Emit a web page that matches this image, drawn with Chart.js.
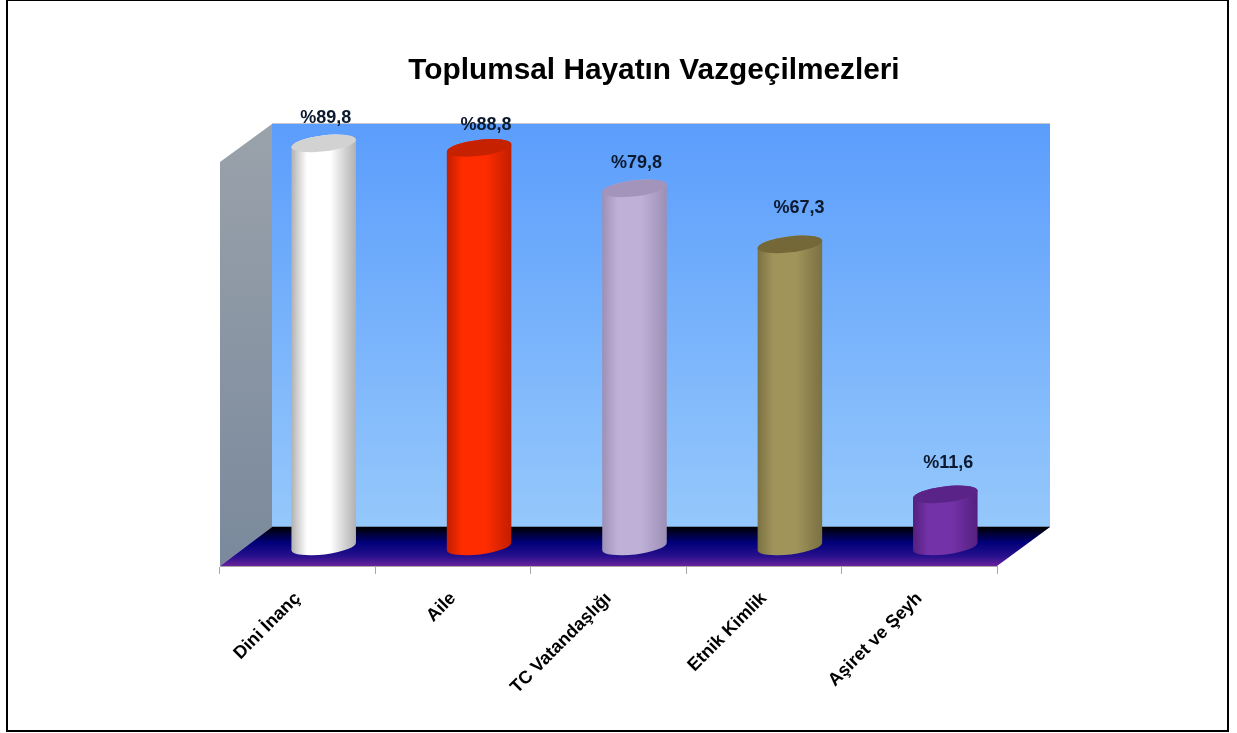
<!DOCTYPE html>
<html><head><meta charset="utf-8">
<script src="https://cdn.jsdelivr.net/npm/chart.js@4"></script>
<style>html,body{margin:0;padding:0;background:#fff;overflow:hidden}canvas{display:block}</style>
</head><body><canvas id="c" width="1237" height="733"></canvas>
<script>
const chartTitle = 'Toplumsal Hayatın Vazgeçilmezleri';
const categories = ['Dini İnanç','Aile','TC Vatandaşlığı','Etnik Kimlik','Aşiret ve Şeyh'];
const values = [89.8,88.8,79.8,67.3,11.6];
const sideColors = ['#b0b0b0','#c01e00','#9c8fb4','#7a7042','#54207f'];
const midColors = ['#ffffff','#ff2c00','#bfb0d8','#a0945a','#7432a8'];
const capColors = ['#d2d2d2','#c62100','#a294ba','#746838','#5a2388'];
const labelNudgeX = [2,7,2,9,3];
const labelNudgeY = [-25,-23,-25,-36,-31];

const DX = 26, DY = -19.5, RX = 32.5, RY = 8, TILT = -0.12;

function barFill(ctx){
  const chart = ctx.chart, i = ctx.dataIndex;
  if (i === undefined || !chart.chartArea) return midColors[0];
  const x = chart.scales.x.getPixelForValue(i);
  const g = chart.ctx.createLinearGradient(x-RX,0,x+RX,0);
  g.addColorStop(0, sideColors[i]);
  g.addColorStop(0.24, midColors[i]);
  g.addColorStop(0.6, midColors[i]);
  g.addColorStop(1, sideColors[i]);
  return g;
}
function drawCylinder(c){
  const {x,y,base} = this.getProps(['x','y','base'],true);
  const i = this.$context ? this.$context.dataIndex : 0;
  const ex = RX*Math.cos(TILT), ey = RX*Math.sin(TILT);
  c.save();
  c.beginPath();
  c.ellipse(x,base,RX,RY,TILT,0,Math.PI);
  c.lineTo(x-ex,y-ey);
  c.ellipse(x,y,RX,RY,TILT,Math.PI,0);
  c.closePath();
  c.fillStyle = this.options.backgroundColor;
  c.fill();
  c.beginPath();
  c.ellipse(x,y,RX,RY,TILT,0,Math.PI*2);
  c.fillStyle = capColors[i];
  c.fill();
  c.restore();
}
const scene = {
  id:'scene',
  beforeDraw(chart){
    const c = chart.ctx, a = chart.chartArea;
    c.save();
    c.fillStyle='#fff'; c.fillRect(0,0,chart.width,chart.height);
    c.fillStyle='#000';
    c.fillRect(6,0,2,732); c.fillRect(1227,0,2,732);
    c.fillRect(6,0,1223,1); c.fillRect(6,730,1223,2);
    const bl=a.left+52, br=a.right+53, bt=a.top-38, bb=a.bottom-39;
    let g=c.createLinearGradient(0,bt,0,bb);
    g.addColorStop(0,'#5b9dfc'); g.addColorStop(1,'#95c8fb');
    c.fillStyle=g; c.fillRect(bl,bt,br-bl,bb-bt);
    c.fillStyle='#c4c8cc'; c.fillRect(bl,bt-1,br-bl,1);
    g=c.createLinearGradient(0,a.top-38,0,a.bottom);
    g.addColorStop(0,'#9aa2ab'); g.addColorStop(1,'#7a899c');
    c.fillStyle=g; c.beginPath();
    c.moveTo(a.left,a.top); c.lineTo(bl,bt); c.lineTo(bl,bb); c.lineTo(a.left,a.bottom); c.closePath(); c.fill();
    g=c.createLinearGradient(0,bb,0,a.bottom);
    g.addColorStop(0,'#000000'); g.addColorStop(0.4,'#00007a'); g.addColorStop(0.75,'#28108c'); g.addColorStop(1,'#6a229c');
    c.fillStyle=g; c.beginPath();
    c.moveTo(bl,bb); c.lineTo(br,bb); c.lineTo(a.right,a.bottom); c.lineTo(a.left,a.bottom); c.closePath(); c.fill();
    c.fillStyle='#6b8fb8'; c.fillRect(bl,bb-1,br-bl,1);
    c.restore();
    c.save();
    c.font='bold 29.8px "Liberation Sans"'; c.textAlign='center'; c.textBaseline='alphabetic';
    c.fillStyle='#000'; c.fillText(chartTitle,654,79);
    c.restore();
  },
  afterDatasetsUpdate(chart){
    chart.getDatasetMeta(0).data.forEach(b=>{b.draw = drawCylinder;});
  },
  beforeDatasetsDraw(chart){
    chart.ctx.save(); chart.ctx.translate(DX,DY);
  },
  afterDatasetsDraw(chart){
    const c=chart.ctx, m=chart.getDatasetMeta(0);
    c.restore();
    c.save();
    c.font='bold 18px "Liberation Sans"'; c.textAlign='center'; c.textBaseline='middle';
    c.fillStyle='#0c1a30';
    m.data.forEach((b,i)=>{
      c.fillText('%'+values[i].toFixed(1).replace('.',','), b.x+DX+labelNudgeX[i], b.y+DY+labelNudgeY[i]);
    });
    c.restore();
  }
};
new Chart(document.getElementById('c'),{
  type:'bar',
  data:{labels:categories,datasets:[{
    label:chartTitle,data:values,clip:false,
    backgroundColor:barFill,borderWidth:0,
    barPercentage:0.418,categoryPercentage:1
  }]},
  options:{
    responsive:false,animation:false,devicePixelRatio:1,
    layout:{autoPadding:false,padding:{left:220,right:240,top:162,bottom:0}},
    plugins:{legend:{display:false},tooltip:{enabled:false},title:{display:false}},
    scales:{
      y:{display:false,min:0,max:90},
      x:{
        offset:true,
        afterFit(s){s.height=167;},
        border:{display:true,color:'#a8a8a8',width:1},
        grid:{drawOnChartArea:false,drawTicks:true,tickLength:8,color:'#a8a8a8',offset:true},
        ticks:{maxRotation:45,minRotation:45,autoSkip:false,padding:14,color:'#000',
          font:{family:'"Liberation Sans"',size:18,weight:'bold'}}
      }
    }
  },
  plugins:[scene]
});
</script></body></html>
